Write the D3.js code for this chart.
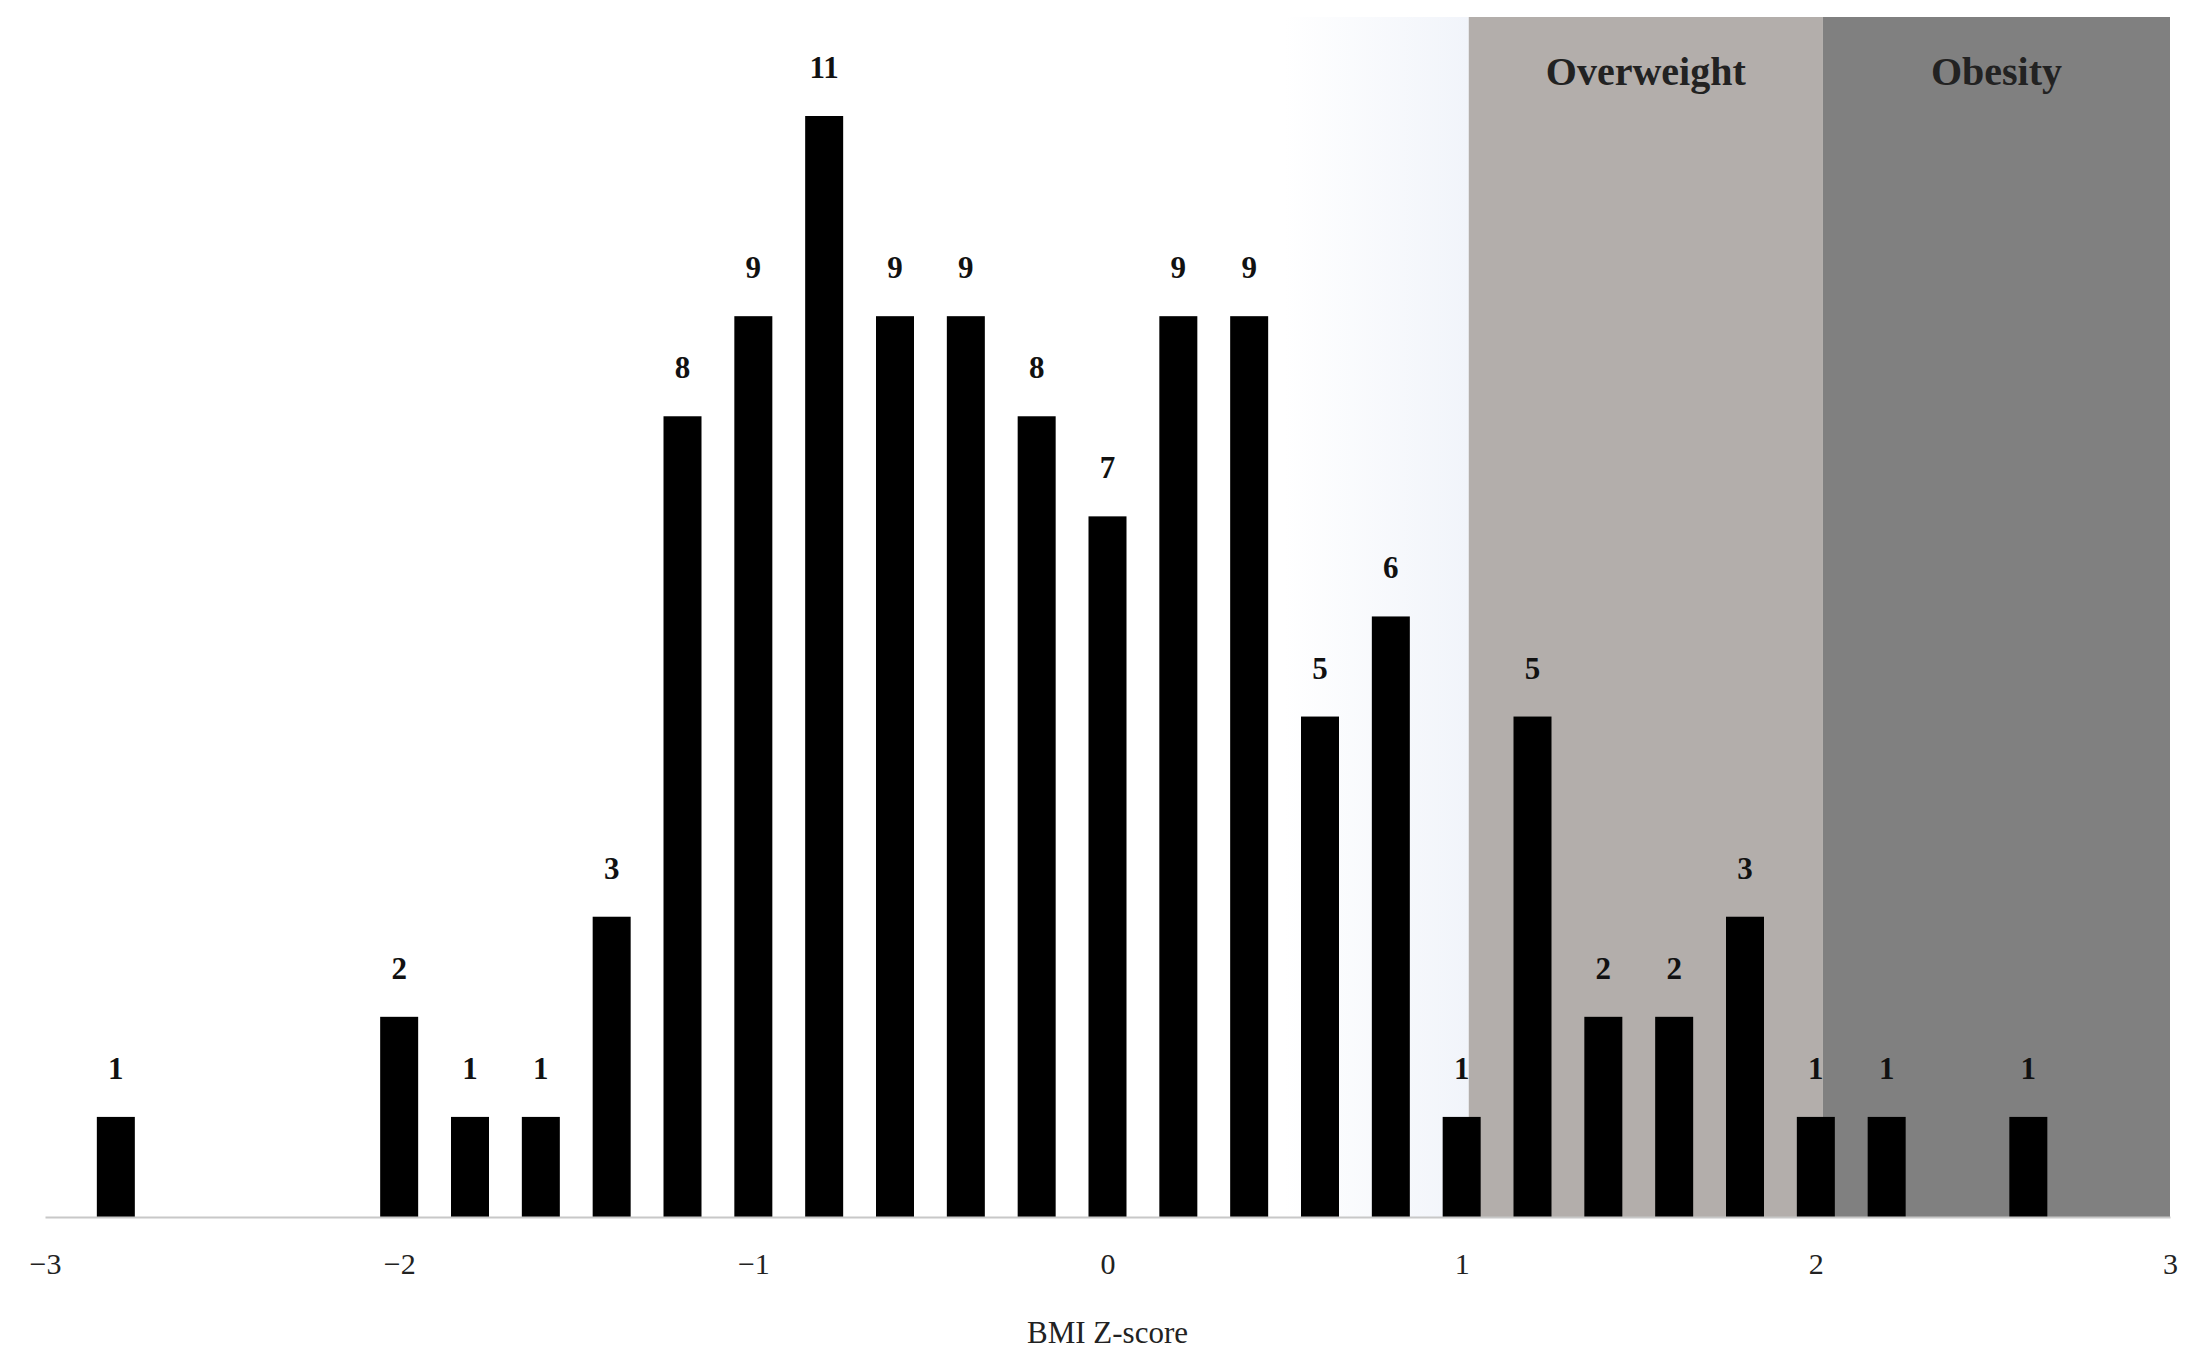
<!doctype html>
<html lang="en">
<head>
    <script src="https://d3js.org/d3.v7.min.js"></script>
    <style>
        body { margin: 0; background: white; }
        svg text { font-family: "Liberation Serif", "DejaVu Serif", serif; }
    </style>
</head>
<body>
<script>
    // Data
    var binCenters = [-2.8, -2.0, -1.8, -1.6, -1.4, -1.2, -1.0, -0.8, -0.6, -0.4, -0.2, 0.0,
                      0.2, 0.4, 0.6, 0.8, 1.0, 1.2, 1.4, 1.6, 1.8, 2.0, 2.2, 2.6];
    var counts     = [1, 2, 1, 1, 3, 8, 9, 11, 9, 9, 8, 7,
                      9, 9, 5, 6, 1, 5, 2, 2, 3, 1, 1, 1];
    var xTicks     = [-3, -2, -1, 0, 1, 2, 3];
    var zones      = [{ name: "Overweight", from: 1.02, to: 2.02, color: "#b3aeab" },
                      { name: "Obesity",    from: 2.02, to: 3.0,  color: "#808080" }];

    var W = 2190, H = 1357;
    var plotLeft = 45, plotRight = 2170, plotTop = 17, plotBottom = 1217;

    var svg = d3.select("body").append("svg").attr("width", W).attr("height", H);

    var x = d3.scaleLinear().domain([-3, 3]).range([plotLeft, plotRight]);
    var y = d3.scaleLinear().domain([0, 11]).range([plotBottom, 116]);

    // light gradient before overweight zone
    var defs = svg.append("defs");
    var grad = defs.append("linearGradient").attr("id", "fade");
    grad.append("stop").attr("offset", "0%").attr("stop-color", "#ffffff");
    grad.append("stop").attr("offset", "100%").attr("stop-color", "#f1f4fa");
    svg.append("rect")
        .attr("x", x(0.5)).attr("y", plotTop)
        .attr("width", x(1.02) - x(0.5)).attr("height", plotBottom - plotTop)
        .attr("fill", "url(#fade)");

    // shaded zones
    svg.selectAll(".zone").data(zones).enter().append("rect")
        .attr("class", "zone")
        .attr("x", function(d) { return x(d.from); })
        .attr("y", plotTop)
        .attr("width", function(d) { return x(d.to) - x(d.from); })
        .attr("height", plotBottom - plotTop)
        .attr("fill", function(d) { return d.color; });

    svg.selectAll(".zoneLabel").data(zones).enter().append("text")
        .attr("class", "zoneLabel")
        .attr("x", function(d) { return x((d.from + d.to) / 2); })
        .attr("y", 85)
        .attr("text-anchor", "middle")
        .attr("font-size", 40).attr("font-weight", "bold").attr("fill", "#222")
        .text(function(d) { return d.name; });

    // bars
    var barW = 38;
    svg.selectAll(".bar").data(counts).enter().append("rect")
        .attr("class", "bar")
        .attr("x", function(d, i) { return x(binCenters[i]) - barW / 2; })
        .attr("y", function(d) { return y(d); })
        .attr("width", barW)
        .attr("height", function(d) { return y(0) - y(d); })
        .attr("fill", "black");

    svg.selectAll(".val").data(counts).enter().append("text")
        .attr("class", "val")
        .attr("x", function(d, i) { return x(binCenters[i]); })
        .attr("y", function(d) { return y(d) - 38; })
        .attr("text-anchor", "middle")
        .attr("font-size", 31).attr("font-weight", "bold").attr("fill", "#111")
        .text(function(d) { return d; });

    // x axis
    var axis = svg.append("g").attr("transform", "translate(0," + plotBottom + ")")
        .call(d3.axisBottom(x).tickValues(xTicks).tickSize(0).tickPadding(36)
            .tickFormat(function(d) { return d < 0 ? "\u2212" + Math.abs(d) : d; }));
    axis.select(".domain").attr("stroke", "#c8c8c8").attr("stroke-width", 2);
    axis.selectAll("text").attr("font-size", 30).attr("fill", "#222")
        .style("font-family", "'Liberation Serif', serif");

    svg.append("text")
        .attr("x", x(0)).attr("y", 1343)
        .attr("text-anchor", "middle")
        .attr("font-size", 31).attr("fill", "#222")
        .text("BMI Z-score");
</script>
</body>
</html>
